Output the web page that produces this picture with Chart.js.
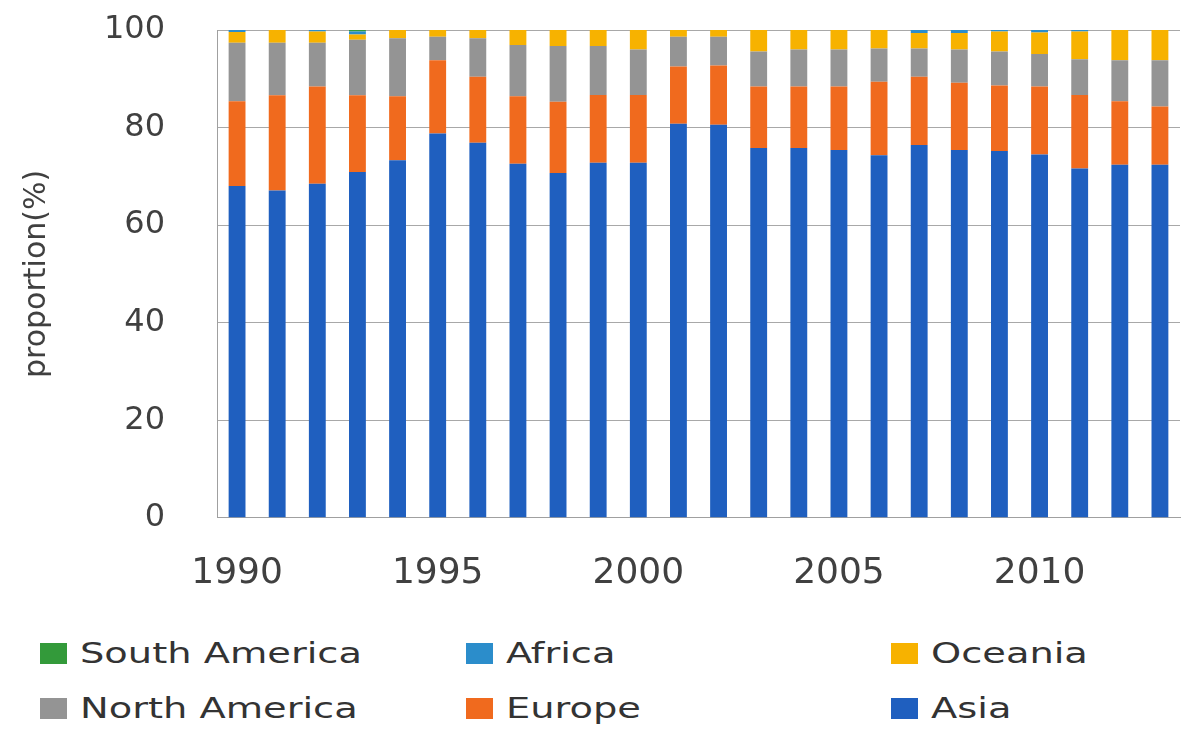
<!DOCTYPE html>
<html lang="en">
<head>
    <meta charset="UTF-8">
    <title>Proportion by continent</title>
    <script src="https://cdn.jsdelivr.net/npm/chart.js"></script>
    <style>
        body { margin: 0; background: #fff; font-family: "DejaVu Sans", sans-serif; }
        #wrap { position: relative; width: 1189px; height: 729px; }
        canvas { position: absolute; left: 0; top: 0; }
        .item { position: absolute; display: flex; align-items: center; height: 30px; }
        .item i { display: inline-block; width: 27px; height: 21px; margin-right: 13px; }
        .item span { font-size: 28px; color: #333; transform: scaleX(1.37); transform-origin: left center; white-space: nowrap; }
    </style>
</head>
<body>
<div id="wrap">
    <canvas id="chart" width="1189" height="599"></canvas>
    <div class="item" style="left:40px; top:638px"><i style="background:#339a3a"></i><span>South America</span></div>
    <div class="item" style="left:466px; top:638px"><i style="background:#2b8dcb"></i><span>Africa</span></div>
    <div class="item" style="left:891px; top:638px"><i style="background:#f7b200"></i><span>Oceania</span></div>
    <div class="item" style="left:40px; top:693px"><i style="background:#949494"></i><span>North America</span></div>
    <div class="item" style="left:466px; top:693px"><i style="background:#f06a1e"></i><span>Europe</span></div>
    <div class="item" style="left:891px; top:693px"><i style="background:#1f5fbf"></i><span>Asia</span></div>
</div>
<script>
    // years on the x axis
    const years = [1990, 1991, 1992, 1993, 1994, 1995, 1996, 1997, 1998, 1999, 2000, 2001,
                   2002, 2003, 2004, 2005, 2006, 2007, 2008, 2009, 2010, 2011, 2012, 2013];

    // share of each continent (%)
    const asia = [68.0, 67.1, 68.5, 70.9, 73.3, 78.8, 76.9, 72.6, 70.7, 72.8, 72.8, 80.8,
                  80.6, 75.8, 75.8, 75.4, 74.3, 76.4, 75.4, 75.2, 74.5, 71.6, 72.4, 72.4];
    const europe = [17.4, 19.5, 19.9, 15.7, 13.1, 15.0, 13.5, 13.8, 14.6, 13.9, 13.9, 11.7,
                    12.1, 12.6, 12.6, 13.0, 15.1, 14.0, 13.8, 13.4, 13.9, 15.1, 13.0, 11.9];
    const northAmerica = [12.0, 10.8, 9.0, 11.4, 11.9, 4.8, 7.9, 10.5, 11.4, 10.0, 9.3, 6.1,
                          5.9, 7.2, 7.6, 7.6, 6.8, 5.8, 6.8, 7.0, 6.7, 7.3, 8.4, 9.5];
    const oceania = [2.2, 2.6, 2.3, 1.1, 1.7, 1.4, 1.7, 3.1, 3.3, 3.3, 4.0, 1.4,
                     1.4, 4.4, 4.0, 4.0, 3.8, 3.2, 3.4, 4.1, 4.4, 5.7, 6.2, 6.2];
    const africa = [0.4, 0, 0.3, 0.6, 0, 0, 0, 0, 0, 0, 0, 0,
                    0, 0, 0, 0, 0, 0.6, 0.6, 0.3, 0.5, 0.3, 0, 0];
    const southAmerica = [0, 0, 0, 0.3, 0, 0, 0, 0, 0, 0, 0, 0,
                          0, 0, 0, 0, 0, 0, 0, 0, 0, 0, 0, 0];

    const yTicks = [0, 20, 40, 60, 80, 100];

    const series = [
        { label: 'Asia', data: asia, color: '#1f5fbf' },
        { label: 'Europe', data: europe, color: '#f06a1e' },
        { label: 'North America', data: northAmerica, color: '#949494' },
        { label: 'Oceania', data: oceania, color: '#f7b200' },
        { label: 'Africa', data: africa, color: '#2b8dcb' },
        { label: 'South America', data: southAmerica, color: '#339a3a' }
    ];

    const ctx = document.getElementById('chart').getContext('2d');
    new Chart(ctx, {
        type: 'bar',
        data: {
            labels: years,
            datasets: series.map(s => ({
                label: s.label,
                data: s.data,
                backgroundColor: s.color,
                borderWidth: 0,
                categoryPercentage: 1,
                barPercentage: 0.42
            }))
        },
        options: {
            responsive: false,
            animation: false,
            layout: { padding: { top: 30, right: 9, bottom: 0, left: 0 } },
            plugins: {
                legend: { display: false },
                tooltip: { enabled: false }
            },
            scales: {
                x: {
                    stacked: true,
                    grid: { display: true, drawOnChartArea: false, drawTicks: true, tickLength: 30, tickColor: 'rgba(0,0,0,0)' },
                    border: { display: true, color: '#a0a0a0', width: 1 },
                    ticks: {
                        autoSkip: false,
                        maxRotation: 0,
                        padding: 4,
                        color: '#404040',
                        font: { family: 'DejaVu Sans', size: 36 },
                        callback: function (value, index) {
                            const y = years[index];
                            return y % 5 === 0 ? String(y) : '';
                        }
                    }
                },
                y: {
                    stacked: true,
                    min: 0,
                    max: 100,
                    afterBuildTicks: function (scale) {
                        scale.ticks = yTicks.map(v => ({ value: v }));
                    },
                    afterFit: function (scale) {
                        scale.width = 217;
                    },
                    grid: { color: '#a8a8a8', drawTicks: true, tickLength: 47, tickColor: 'rgba(0,0,0,0)' },
                    border: { display: true, color: '#a0a0a0' },
                    ticks: {
                        padding: 5,
                        color: '#404040',
                        font: { family: 'DejaVu Sans', size: 32 }
                    },
                    title: {
                        display: true,
                        text: 'proportion(%)',
                        color: '#404040',
                        padding: { top: 19, bottom: 0 },
                        font: { family: 'DejaVu Sans', size: 30 }
                    }
                }
            }
        }
    });
</script>
</body>
</html>
